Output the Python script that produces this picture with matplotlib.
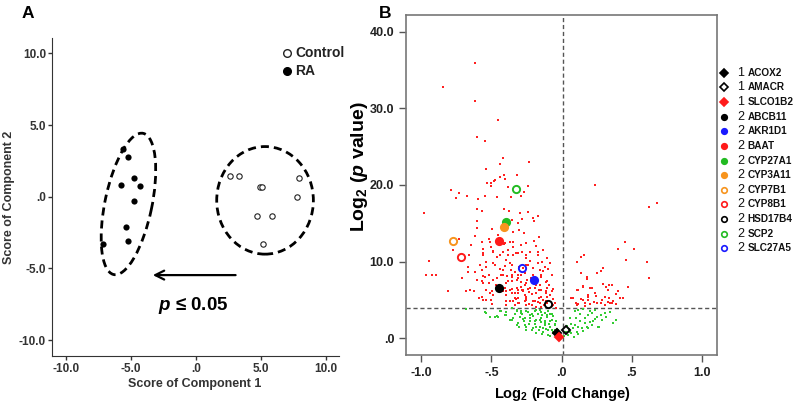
import matplotlib
matplotlib.use('Agg')
import matplotlib.pyplot as plt
from matplotlib.patches import Ellipse
from matplotlib.lines import Line2D

plt.rcParams['font.family'] = ['Liberation Sans', 'DejaVu Sans']
plt.rcParams['mathtext.fontset'] = 'custom'
plt.rcParams['mathtext.rm'] = 'Liberation Sans:bold'
plt.rcParams['mathtext.it'] = 'Liberation Sans:italic:bold'
plt.rcParams['mathtext.bf'] = 'Liberation Sans:bold'

#### P A N E L _ A  (PCA scores)
ctrl_x = [2.64, 3.33, 4.95, 5.05, 7.92, 7.72, 4.67, 5.87, 5.18]
ctrl_y = [1.47, 1.47, 0.70, 0.65, 1.28, 0.00, -1.33, -1.33, -3.28]
ra_x = [-5.59, -5.20, -4.77, -5.77, -4.28, -4.74, -5.41, -5.20, -7.13]
ra_y = [3.33, 2.79, 1.28, 0.80, 0.75, -0.30, -2.14, -3.09, -3.28]
a_ticks = [-10, -5, 0, 5, 10]
a_ticklabels = ['-10.0', '-5.0', '.0', '5.0', '10.0']

#### P A N E L _ B  (volcano)
red_pts = [
    (-0.62, 35.9), (-0.846, 32.8), (-0.62, 31.0), (-0.455, 28.5), (-0.60, 26.3), (-0.546, 25.7),
    (-0.417, 23.5), (-0.234, 23.0), (-0.436, 22.7), (-0.541, 22.1), (-0.319, 21.3), (-0.414, 21.3),
    (-0.439, 21.0), (-0.403, 20.8), (-0.479, 20.5), (-0.505, 19.9), (-0.384, 19.8), (-0.239, 19.9),
    (-0.789, 19.4), (-0.731, 18.9), (-0.676, 18.6), (-0.548, 18.6), (-0.457, 18.4), (-0.289, 18.5),
    (-0.36, 18.4), (-0.269, 19.1), (-0.755, 18.3), (-0.593, 18.2), (-0.529, 20.2), (-0.5, 20.2),
    (-0.474, 20.6),
    (-0.979, 16.3), (-0.605, 16.8), (-0.564, 16.6), (-0.41, 16.9), (-0.376, 16.6), (-0.298, 16.4),
    (-0.236, 16.5), (-0.6, 15.3), (-0.6, 14.4), (-0.498, 14.2), (-0.35, 15.4), (-0.314, 15.0),
    (-0.284, 15.6), (-0.207, 15.7), (-0.171, 15.9), (-0.198, 15.3), (-0.346, 13.9), (-0.303, 14.1),
    (-0.731, 12.9), (-0.646, 12.2), (-0.564, 12.6), (-0.505, 11.9), (-0.41, 12.3), (-0.346, 12.6),
    (-0.255, 12.4), (-0.198, 12.7), (-0.184, 12.0), (-0.774, 11.5), (-0.56, 10.9), (-0.489, 11.4),
    (-0.421, 11.2), (-0.379, 10.9), (-0.326, 11.1), (-0.279, 11.3), (-0.255, 10.9), (-0.171, 11.3),
    (-0.946, 10.1), (-0.669, 9.3), (-0.541, 10.0), (-0.489, 9.8), (-0.398, 10.2), (-0.35, 9.6),
    (-0.226, 10.1), (-0.171, 9.8), (-0.136, 10.0), (-0.66, 10.9),
    (-0.964, 8.3), (-0.926, 8.3), (-0.898, 8.3), (-0.712, 7.8), (-0.671, 8.7), (-0.621, 8.7),
    (-0.56, 8.1), (-0.521, 8.3), (-0.464, 7.9), (-0.421, 8.3), (-0.386, 8.1), (-0.35, 8.3),
    (-0.312, 8.3), (-0.264, 8.5), (-0.207, 8.3), (-0.148, 8.3),
    (-0.807, 6.2), (-0.684, 6.1), (-0.624, 6.2), (-0.564, 7.4), (-0.517, 7.2), (-0.398, 7.2),
    (-0.35, 7.5), (-0.291, 7.3), (-0.243, 7.6), (-0.179, 6.9), (-0.112, 7.3),
    (-0.541, 6.3), (-0.493, 6.1), (-0.398, 6.1), (-0.35, 6.4), (-0.314, 5.9), (-0.279, 6.3),
    (-0.231, 6.0), (-0.16, 6.3), (-0.112, 6.1), (-0.064, 6.4),
    (-0.588, 5.2), (-0.505, 5.0), (-0.398, 4.8), (-0.326, 5.1), (-0.255, 5.3), (-0.207, 4.9),
    (-0.16, 5.2), (-0.112, 4.8), (-0.064, 5.1), (-0.303, 4.6), (-0.231, 4.4), (-0.171, 4.7),
    (-0.124, 4.3), (-0.398, 4.3), (-0.498, 4.4),
    (-0.655, 6.3), (-0.56, 5.0), (-0.512, 5.9), (-0.488, 5.6), (-0.417, 6.1), (-0.393, 5.6),
    (-0.369, 6.3), (-0.333, 5.9), (-0.31, 5.2), (-0.274, 6.1), (-0.25, 5.4), (-0.214, 5.7),
    (-0.143, 5.4), (-0.112, 5.9), (-0.321, 6.5), (-0.286, 6.7), (-0.238, 6.4), (-0.19, 6.6),
    (-0.155, 6.9), (-0.107, 6.5), (-0.346, 4.8), (-0.262, 4.9), (-0.19, 4.8), (-0.155, 4.6),
    (-0.131, 5.0), (-0.25, 4.3), (-0.179, 4.1), (-0.333, 4.3),
    (-0.44, 9.0), (-0.36, 8.9), (-0.30, 9.3), (-0.25, 9.6), (-0.20, 9.1), (-0.13, 8.8),
    (-0.47, 7.0), (-0.43, 6.8), (-0.31, 7.8), (-0.26, 7.0), (-0.22, 7.8), (-0.09, 7.0),
    (-0.08, 5.6), (-0.05, 4.6), (-0.07, 4.2), (-0.60, 7.6), (-0.46, 10.6), (-0.52, 12.9),
    (-0.62, 13.4), (-0.45, 13.5), (-0.27, 13.7), (-0.16, 13.2), (-0.58, 9.6), (-0.40, 9.4),
    (-0.10, 9.0),
    (-0.56, 11.1), (-0.488, 11.3), (-0.44, 10.9), (-0.381, 11.5), (-0.345, 10.8), (-0.31, 11.1),
    (-0.25, 10.4), (-0.226, 11.3), (-0.167, 10.9), (-0.131, 11.5), (-0.107, 10.4),
    (-0.536, 9.3), (-0.476, 9.6), (-0.417, 8.9), (-0.369, 9.8), (-0.333, 8.7), (-0.274, 9.1),
    (-0.238, 9.6), (-0.155, 8.9), (-0.119, 9.3), (-0.083, 9.8),
    (-0.548, 8.0), (-0.488, 7.6), (-0.429, 8.3), (-0.381, 7.4), (-0.357, 8.0), (-0.321, 7.6),
    (-0.286, 8.3), (-0.25, 7.2), (-0.143, 8.0), (-0.107, 7.4), (-0.071, 8.3),
    (-0.536, 6.3), (-0.405, 6.5), (-0.357, 5.9), (-0.31, 6.3), (-0.262, 5.6), (-0.226, 6.5),
    (-0.179, 5.9), (-0.143, 6.3), (-0.107, 5.4), (-0.071, 6.1), (-0.333, 5.2), (-0.274, 6.3),
    (-0.369, 4.8), (-0.31, 4.6), (-0.25, 5.0), (-0.214, 4.3), (-0.19, 4.8), (-0.143, 4.1),
    (-0.107, 4.6), (-0.06, 4.3), (-0.036, 3.95),
    (-0.512, 12.6), (-0.405, 12.4), (-0.345, 11.9), (-0.56, 11.7), (-0.369, 12.6), (-0.286, 12.2),
    (-0.571, 8.9), (-0.56, 7.2), (-0.571, 5.4), (-0.536, 5.0),
    (0.238, 20.0), (0.678, 17.7), (0.626, 17.1), (0.452, 12.6), (0.404, 11.6), (0.516, 11.6),
    (0.457, 10.2), (0.611, 10.0), (0.626, 7.8), (0.14, 10.6), (0.161, 10.9), (0.111, 9.9),
    (0.136, 8.5), (0.179, 8.0), (0.179, 7.7), (0.293, 9.1), (0.281, 8.8), (0.25, 8.5),
    (0.471, 6.7), (0.15, 6.8), (0.202, 6.6), (0.214, 6.6), (0.293, 7.1), (0.317, 6.7),
    (0.338, 6.9), (0.357, 6.9), (0.107, 6.3), (0.333, 6.3), (0.404, 6.1), (0.388, 5.8),
    (0.071, 5.3), (0.136, 5.1), (0.188, 5.4), (0.188, 5.0), (0.245, 5.5), (0.309, 5.4),
    (0.34, 5.2), (0.416, 5.3), (0.44, 5.3), (0.102, 4.6), (0.119, 4.4), (0.166, 4.6),
    (0.202, 4.5), (0.231, 4.7), (0.255, 4.6), (0.279, 4.6), (0.333, 4.7), (0.357, 4.6),
    (0.388, 4.4), (0.119, 6.3), (0.155, 6.7), (0.19, 5.6), (0.238, 5.9), (0.083, 5.2),
    (0.155, 5.0), (0.286, 5.0), (0.368, 4.8), (0.107, 4.3), (0.166, 4.2), (0.309, 4.3),
    (0.345, 4.6),
]
green_pts = [
    (-0.684, 3.8), (-0.548, 3.4), (-0.512, 2.8), (-0.453, 2.8), (-0.393, 3.4), (-0.357, 3.9),
    (-0.321, 3.7), (-0.286, 3.5), (-0.346, 2.6), (-0.298, 2.8), (-0.262, 2.6), (-0.226, 3.0),
    (-0.19, 3.5), (-0.155, 3.7), (-0.119, 3.3), (-0.31, 2.0), (-0.262, 1.7), (-0.226, 2.2),
    (-0.179, 2.4), (-0.143, 2.6), (-0.107, 2.8), (-0.071, 2.4), (-0.25, 1.1), (-0.203, 1.3),
    (-0.155, 1.5), (-0.119, 1.7), (-0.083, 1.5), (-0.048, 1.7), (-0.179, 0.65), (-0.131, 0.86),
    (-0.095, 0.43), (-0.06, 0.65), (-0.036, 0.2), (-0.012, 0.0), (-0.541, 3.3), (-0.464, 2.9),
    (-0.33, 3.2), (-0.28, 3.1), (-0.24, 3.4), (-0.20, 2.9), (-0.17, 3.1), (-0.14, 3.0),
    (-0.10, 3.6), (-0.08, 3.1), (-0.06, 2.9), (-0.04, 2.2), (-0.03, 1.2), (-0.02, 0.6),
    (-0.27, 2.3), (-0.23, 1.9), (-0.19, 1.8), (-0.15, 2.1), (-0.12, 2.2), (-0.09, 1.9),
    (-0.07, 1.1), (-0.05, 1.0), (-0.21, 1.0), (-0.16, 1.1), (-0.11, 1.2), (-0.14, 0.5),
    (-0.08, 0.3), (-0.40, 3.0), (-0.37, 2.4), (-0.30, 1.5), (-0.43, 3.6),
    (-0.321, 3.5), (-0.286, 3.3), (-0.25, 3.6), (-0.214, 3.2), (-0.179, 3.7), (-0.143, 3.4),
    (-0.107, 3.0), (-0.071, 3.2), (-0.274, 2.5), (-0.226, 2.6), (-0.19, 2.2), (-0.155, 2.4),
    (-0.119, 2.0), (-0.083, 2.2), (-0.048, 1.9), (-0.179, 1.5), (-0.131, 1.3), (-0.095, 1.1),
    (-0.06, 0.86), (-0.024, 1.1), (-0.44, 3.5), (-0.393, 3.0), (-0.357, 2.4), (-0.476, 2.8),
    (-0.321, 1.7), (-0.25, 1.5),
    (0.047, 0.43), (0.071, 0.65), (0.107, 0.86), (0.143, 1.3), (0.179, 1.5), (0.214, 1.7),
    (0.262, 1.4), (0.095, 1.7), (0.131, 2.2), (0.166, 2.6), (0.19, 3.0), (0.214, 3.3),
    (0.25, 2.8), (0.286, 2.4), (0.309, 3.3), (0.095, 3.5), (0.119, 3.7), (0.155, 3.8),
    (0.202, 3.5), (0.368, 2.0), (0.392, 2.4), (0.345, 3.4), (0.238, 3.7), (0.059, 0.86),
    (0.083, 1.3), (0.119, 1.5), (0.166, 2.0), (0.19, 1.3), (0.226, 2.2), (0.27, 1.5),
    (0.02, 0.3), (0.03, 0.8), (0.05, 1.2), (0.07, 1.9), (0.10, 2.6), (0.13, 3.1),
    (0.06, 2.6), (0.04, 1.6), (0.15, 0.9), (0.20, 2.1), (0.24, 2.5), (0.28, 3.0),
    (0.32, 2.7), (0.12, 0.5), (0.09, 0.2),
]
red_x = [p[0] for p in red_pts]
red_y = [p[1] for p in red_pts]
green_x = [p[0] for p in green_pts]
green_y = [p[1] for p in green_pts]

genes = ['ACOX2', 'AMACR', 'SLCO1B2', 'ABCB11', 'AKR1D1', 'BAAT', 'CYP27A1',
         'CYP3A11', 'CYP7B1', 'CYP8B1', 'HSD17B4', 'SCP2', 'SLC27A5']
groups = ['1', '1', '1', '2', '2', '2', '2', '2', '2', '2', '2', '2', '2']
hl_x = [-0.031, 0.029, -0.017, -0.448, -0.193, -0.448, -0.395, -0.407, -0.771, -0.719, -0.098, -0.326, -0.279]
hl_y = [0.73, 1.08, 0.13, 6.6, 7.6, 12.7, 15.2, 14.5, 12.7, 10.6, 4.5, 19.5, 9.2]
hl_color = ['black', 'black', '#ff1a1a', 'black', '#1a1aff', '#ff1a1a', '#22bb22',
            '#f7941d', '#f7941d', '#ff1a1a', 'black', '#22bb22', '#1a1aff']
hl_filled = [True, False, True, True, True, True, True, True, False, False, False, False, False]
hl_marker = ['D', 'D', 'D', 'o', 'o', 'o', 'o', 'o', 'o', 'o', 'o', 'o', 'o']

b_xticks = [-1.0, -0.5, 0.0, 0.5, 1.0]
b_xticklabels = ['-1.0', '-.5', '.0', '.5', '1.0']
b_yticks = [0, 10, 20, 30, 40]
b_yticklabels = ['.0', '10.0', '20.0', '30.0', '40.0']

W, H = 800, 407
fig = plt.figure(figsize=(8, 4.07), dpi=100)

# A
axA = fig.add_axes([0.0646, 0.1253, 0.3594, 0.7807])
axA.scatter(ctrl_x, ctrl_y, s=15, facecolors='white', edgecolors='#222222', linewidths=0.8, zorder=3)
axA.scatter(ra_x, ra_y, s=20, color='black', linewidths=0, zorder=3)
axA.add_patch(Ellipse((-5.2, -0.5), width=10.1, height=3.6, angle=76.8, fill=False,
                      lw=2, ls=(0, (2.9, 1.8)), color='black'))
axA.add_patch(Ellipse((5.3, -0.25), width=7.43, height=7.5, fill=False,
                      lw=2, ls=(0, (2.9, 1.8)), color='black'))
axA.annotate('', xy=(-3.54, -5.46), xytext=(3.25, -5.46),
             arrowprops=dict(arrowstyle='->', lw=1.6, color='black', mutation_scale=16))
axA.text(-0.2, -7.56, r'$\mathit{p}$ ≤ 0.05', fontsize=13.5, fontweight='bold', ha='center', va='center')
axA.set_xlim(-11.1, 11.0)
axA.set_ylim(-11.1, 11.05)
axA.set_xticks(a_ticks)
axA.set_xticklabels(a_ticklabels)
axA.set_yticks(a_ticks)
axA.set_yticklabels(a_ticklabels)
for s in ['top', 'right']:
    axA.spines[s].set_visible(False)
for s in ['left', 'bottom']:
    axA.spines[s].set_color('#333333')
axA.tick_params(direction='out', length=3, width=1, color='#333333', labelsize=8.5,
                labelcolor='#333333', pad=2)
axA.tick_params(axis='y', pad=1)
for lab in axA.get_xticklabels() + axA.get_yticklabels():
    lab.set_fontweight('bold')
fig.text(195 / W, 1 - 384 / H, 'Score of Component 1', fontsize=9, fontweight='bold',
         color='#333333', ha='center', va='center')
fig.text(9.5 / W, 1 - 197 / H, 'Score of Component 2', fontsize=9, fontweight='bold',
         color='#333333', ha='center', va='center', rotation=90)

# legend A
fig.add_artist(Line2D([287 / W], [1 - 53 / H], transform=fig.transFigure, marker='o', ls='',
                      mfc='white', mec='#222222', ms=5.5, mew=1))
fig.add_artist(Line2D([287 / W], [1 - 70.7 / H], transform=fig.transFigure, marker='o', ls='',
                      mfc='black', mec='black', ms=5.5))
fig.text(295 / W, 1 - 53 / H, 'Control', fontsize=10, fontweight='bold', color='#222222', va='center')
fig.text(295 / W, 1 - 70.7 / H, 'RA', fontsize=10, fontweight='bold', color='#222222', va='center')

# B
axB = fig.add_axes([0.5075, 0.1278, 0.3888, 0.8354])
axB.scatter(green_x, green_y, s=3.5, marker='s', color='#33cc33', linewidths=0, zorder=2)
axB.scatter(red_x, red_y, s=3.5, marker='s', color='#ff2020', linewidths=0, zorder=2)
axB.axhline(3.9, color='#555555', ls=(0, (3, 2)), lw=1, zorder=1)
axB.axvline(0.01, color='#555555', ls=(0, (3, 2)), lw=1, zorder=1)
for i in range(len(genes)):
    ms = 4.5 if hl_marker[i] == 'D' else 5.2
    axB.plot(hl_x[i], hl_y[i], marker=hl_marker[i], ls='', ms=ms,
             mfc=hl_color[i] if hl_filled[i] else 'none', mec=hl_color[i], mew=1.4, zorder=4)
axB.set_xlim(-1.11, 1.11)
axB.set_ylim(-2.2, 42.2)
axB.set_xticks(b_xticks)
axB.set_xticklabels(b_xticklabels)
axB.set_yticks(b_yticks)
axB.set_yticklabels(b_yticklabels)
for s in axB.spines.values():
    s.set_color('#777777')
    s.set_linewidth(1.2)
axB.tick_params(direction='out', length=5, width=1, color='#555555', labelsize=9, labelcolor='#222222')
for lab in axB.get_xticklabels() + axB.get_yticklabels():
    lab.set_fontweight('bold')
fig.text(562 / W, 1 - 394 / H, r'Log$_2$ (Fold Change)', fontsize=10.5, fontweight='bold',
         ha='center', va='center')
fig.text(360 / W, 1 - 167 / H, r'Log$_2$ ($\mathit{p}$ value)', fontsize=14, fontweight='bold',
         ha='center', va='center', rotation=90)

# legend B
top_y, bot_y = 1 - 72.7 / H, 1 - 248.3 / H
for i in range(len(genes)):
    yy = top_y - i * (top_y - bot_y) / (len(genes) - 1)
    ms = 3.6 if hl_marker[i] == 'D' else 4
    fig.add_artist(Line2D([724 / W], [yy], transform=fig.transFigure, marker=hl_marker[i], ls='',
                          ms=ms, mfc=hl_color[i] if hl_filled[i] else 'none', mec=hl_color[i], mew=1.2))
    fig.text(737 / W, yy, groups[i], fontsize=9, color='#111111', va='center')
    fig.text(747.5 / W, yy, genes[i], fontsize=7.2, fontweight='bold', color='#111111', va='center')

fig.text(27.7 / W, 1 - 13 / H, 'A', fontsize=12.5, fontweight='bold', ha='center', va='center')
fig.text(385 / W, 1 - 13 / H, 'B', fontsize=12.5, fontweight='bold', ha='center', va='center')

fig.savefig('out.png', dpi=100)
